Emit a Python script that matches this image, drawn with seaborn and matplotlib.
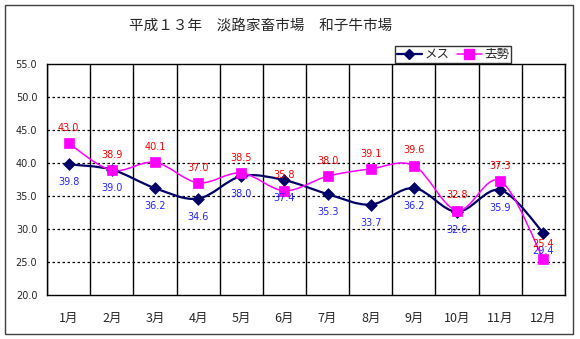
import numpy as np
import pandas as pd
import matplotlib
matplotlib.use("Agg")
import matplotlib.pyplot as plt
import seaborn as sns
from matplotlib.path import Path
from matplotlib.patches import PathPatch, Rectangle
from matplotlib.lines import Line2D

# ---- data ----
months = ["1月", "2月", "3月", "4月", "5月", "6月", "7月", "8月", "9月", "10月", "11月", "12月"]
mesu = [39.8, 39.0, 36.2, 34.6, 38.0, 37.4, 35.3, 33.7, 36.2, 32.6, 35.9, 29.4]
kyosei = [43.0, 38.9, 40.1, 37.0, 38.5, 35.8, 38.0, 39.1, 39.6, 32.8, 37.3, 25.4]
series_names = ["メス", "去勢"]
yticks = [20, 25, 30, 35, 40, 45, 50, 55]
title = "平成１３年　淡路家畜市場　和子牛市場"

sns.set_theme(style="white")
plt.rcParams["font.family"] = ["Noto Sans CJK JP", "DejaVu Sans"]

df = pd.DataFrame({"pos": np.arange(len(months)), "month": months,
                   "メス": mesu, "去勢": kyosei})

fig = plt.figure(figsize=(5.8, 3.39), dpi=100)
ax = fig.add_axes([47/580, 1-295/339, (565-47)/580, (295-64)/339])

navy = "#000066"
mag = "#FF00FF"


def smooth_path(xs, ys):
    P = np.column_stack([xs, ys]).astype(float)
    n = len(P)
    verts = [P[0]]
    codes = [Path.MOVETO]
    for i in range(n - 1):
        p0 = P[i - 1] if i > 0 else P[i]
        p1 = P[i]
        p2 = P[i + 1]
        p3 = P[i + 2] if i + 2 < n else P[i + 1]
        c1 = p1 + (p2 - p0) / 6
        c2 = p2 - (p3 - p1) / 6
        verts += [c1, c2, p2]
        codes += [Path.CURVE4] * 3
    return Path(verts, codes)


ax.add_patch(PathPatch(smooth_path(df["pos"], df["メス"]), fill=False,
                       edgecolor=navy, lw=1.6, zorder=3))
ax.add_patch(PathPatch(smooth_path(df["pos"], df["去勢"]), fill=False,
                       edgecolor=mag, lw=1.1, zorder=3))

sns.scatterplot(data=df, x="pos", y="メス", marker="D", color=navy, s=36,
                edgecolor=navy, linewidth=0.5, ax=ax, zorder=4)
sns.scatterplot(data=df, x="pos", y="去勢", marker="s", color=mag, s=52,
                edgecolor=mag, linewidth=0.5, ax=ax, zorder=4)

for i, v in enumerate(mesu):
    ax.annotate(f"{v:.1f}", (i, v), xytext=(0, -13), textcoords="offset points",
                ha="center", va="center", fontsize=7, color="#2424FF",
                family=["DejaVu Sans"], zorder=5)
for i, v in enumerate(kyosei):
    ax.annotate(f"{v:.1f}", (i, v), xytext=(0, 11), textcoords="offset points",
                ha="center", va="center", fontsize=7, color="#FF0000",
                family=["DejaVu Sans"], zorder=5)

ax.set_xlim(-0.5, len(months) - 0.5)
ax.set_ylim(20, 55)
ax.set_yticks(yticks)
ax.set_yticklabels([f"{t:.1f}" for t in yticks], fontsize=7, family=["DejaVu Sans"])
ax.set_xticks(df["pos"])
ax.set_xticklabels(months, fontsize=9)
ax.set_xticks(np.arange(-0.5, len(months), 1), minor=True)
ax.tick_params(axis="both", which="both", length=0)
ax.tick_params(axis="y", pad=7)
ax.tick_params(axis="x", pad=12)
ax.grid(False)
for t in yticks[1:-1]:
    ax.axhline(t, color="black", lw=0.9, ls=(0, (2, 2)), zorder=1)
ax.grid(which="minor", axis="x", color="black", lw=1.0, ls="-", zorder=1)
ax.set_axisbelow(True)
for s in ax.spines.values():
    s.set_color("black")
    s.set_linewidth(1.0)
ax.set_xlabel("")
ax.set_ylabel("")

fig.text(261/580, 1-27/339, title, ha="center", va="center", fontsize=10.5)

handles = [Line2D([0], [0], color=navy, lw=1.6, marker="D", markersize=5.5),
           Line2D([0], [0], color=mag, lw=1.1, marker="s", markersize=6.5)]
leg = fig.legend(handles, series_names, loc="upper right",
                 bbox_to_anchor=(511/580, 1-46/339), fontsize=9,
                 frameon=True, fancybox=False, ncol=2, handlelength=2.0,
                 handletextpad=0.2, columnspacing=0.6, borderpad=0.15,
                 borderaxespad=0)
leg.get_frame().set_edgecolor("black")
leg.get_frame().set_linewidth(1.0)

fig.patches.append(Rectangle((5/580, 1-334/339), (573-5)/580, (334-5)/339,
                             transform=fig.transFigure, fill=False,
                             edgecolor="#404040", lw=1.0))

fig.savefig("out.png", dpi=100)
